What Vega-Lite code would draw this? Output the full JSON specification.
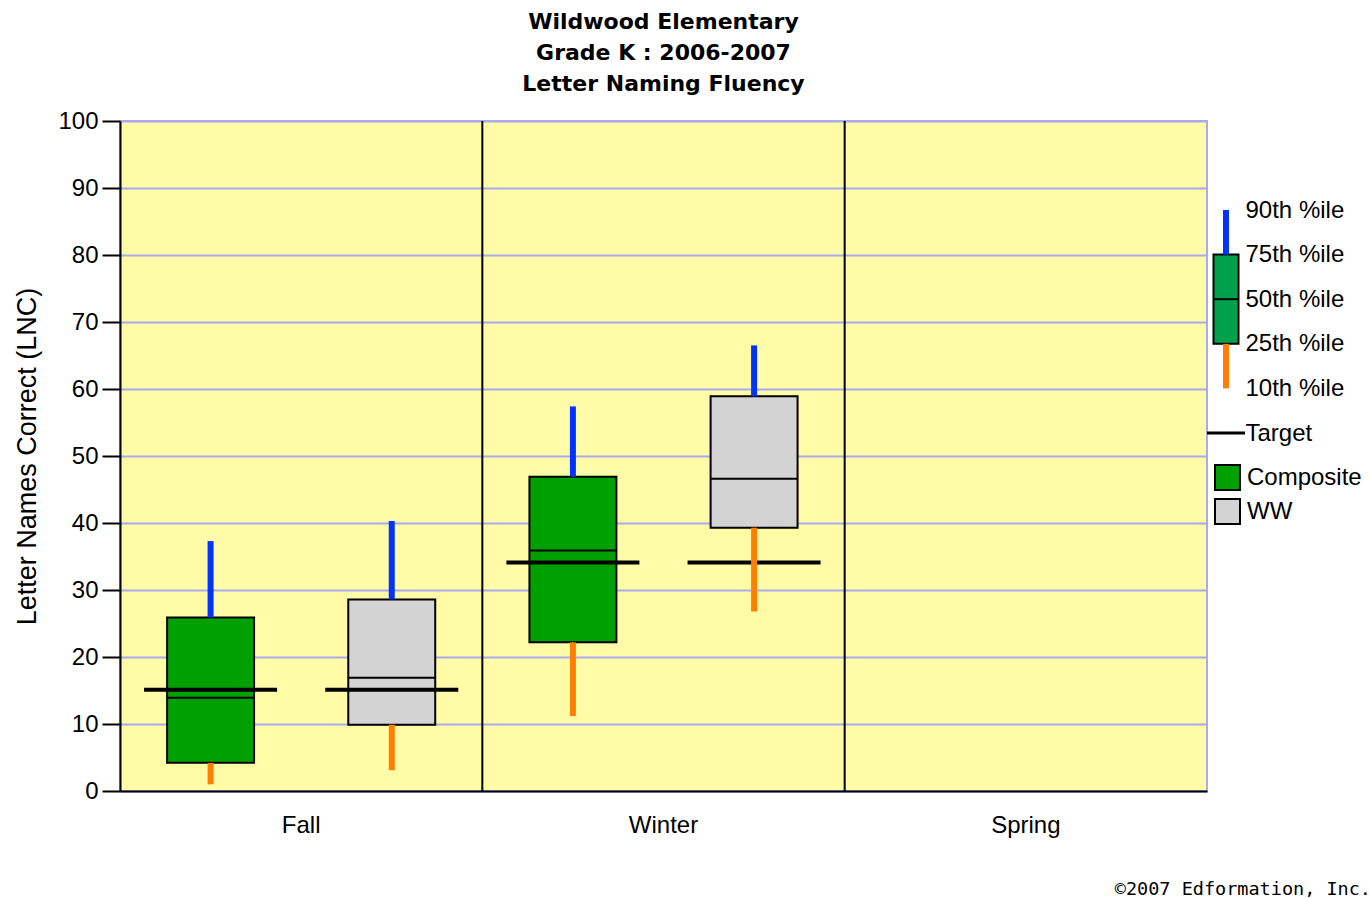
{
  "$schema": "https://vega.github.io/schema/vega-lite/v6.json",
  "background": "white",
  "padding": {"left": 12, "top": 10, "right": 0, "bottom": 0},
  "spacing": 0,
  "bounds": "flush",
  "config": {"font": "Liberation Sans"},
  "title": {
    "text": "©2007 Edformation, Inc.",
    "orient": "bottom",
    "anchor": "end",
    "frame": "bounds",
    "font": "DejaVu Sans Mono",
    "fontSize": 18.5,
    "fontWeight": "normal",
    "color": "black",
    "offset": 42,
    "dx": 9
  },
  "hconcat": [
    {
      "width": 1087,
      "height": 670,
      "view": {"fill": "#fffba6", "stroke": "#aaaaf0", "strokeWidth": 2},
      "title": {
        "text": ["Wildwood Elementary", "Grade K : 2006-2007", "Letter Naming Fluency"],
        "font": "DejaVu Sans",
        "fontWeight": "bold",
        "fontSize": 22,
        "lineHeight": 31,
        "color": "black",
        "offset": 13
      },
      "data": {
        "values": [
          {"season": "Fall", "group": "Composite", "p10": 1.0, "p25": 4.2, "p50": 13.9, "p75": 25.9, "p90": 37.3, "target": 15.1},
          {"season": "Fall", "group": "WW", "p10": 3.1, "p25": 9.9, "p50": 16.9, "p75": 28.6, "p90": 40.3, "target": 15.1},
          {"season": "Winter", "group": "Composite", "p10": 11.2, "p25": 22.2, "p50": 35.9, "p75": 46.9, "p90": 57.4, "target": 34.1},
          {"season": "Winter", "group": "WW", "p10": 26.8, "p25": 39.3, "p50": 46.6, "p75": 58.9, "p90": 66.5, "target": 34.1}
        ]
      },
      "layer": [
        {
          "mark": {"type": "bar", "stroke": "black", "strokeWidth": 2},
          "encoding": {
            "x": {
              "field": "season", "type": "nominal",
              "scale": {"domain": ["Fall", "Winter", "Spring"], "paddingInner": 0, "paddingOuter": 0},
              "axis": {
                "title": null, "labelAngle": 0, "labelFont": "Liberation Sans", "labelFontSize": 24,
                "labelColor": "black", "labelPadding": 22, "ticks": false,
                "domainColor": "black", "domainWidth": 2, "grid": false
              }
            },
            "xOffset": {"field": "group", "type": "nominal", "scale": {"domain": ["Composite", "WW"], "paddingInner": 0.52, "paddingOuter": 0.26}},
            "y": {
              "field": "p25", "type": "quantitative",
              "scale": {"domain": [0, 100]},
              "axis": {
                "tickCount": 10,
                "title": "Letter Names Correct (LNC)", "titleFont": "Liberation Sans", "titleFontSize": 27,
                "titleFontWeight": "normal", "titleColor": "black", "titlePadding": 16,
                "labelFont": "Liberation Sans", "labelFontSize": 24, "labelColor": "black", "labelPadding": 4,
                "tickSize": 18, "tickColor": "black", "tickWidth": 2,
                "domainColor": "black", "domainWidth": 2,
                "gridColor": "#aaaaf0", "gridWidth": 2, "gridOpacity": 1
              }
            },
            "y2": {"field": "p75"},
            "fill": {
              "field": "group", "type": "nominal",
              "scale": {"domain": ["Composite", "WW"], "range": ["#00a000", "#d3d3d3"]},
              "legend": {
                "orient": "none", "legendX": 1094, "legendY": 343, "title": null,
                "symbolType": "square", "symbolSize": 625, "symbolStrokeColor": "black", "symbolStrokeWidth": 2,
                "symbolOpacity": 1,
                "labelFont": "Liberation Sans", "labelFontSize": 24, "labelColor": "black", "labelOffset": 6,
                "rowPadding": 1, "padding": 0
              }
            }
          }
        },
        {
          "mark": {"type": "tick", "size": 87, "thickness": 2, "color": "black", "opacity": 1},
          "encoding": {
            "x": {"field": "season", "type": "nominal"},
            "xOffset": {"field": "group", "type": "nominal"},
            "y": {"field": "p50", "type": "quantitative"}
          }
        },
        {
          "mark": {"type": "tick", "size": 133, "thickness": 4, "color": "black", "opacity": 1},
          "encoding": {
            "x": {"field": "season", "type": "nominal"},
            "xOffset": {"field": "group", "type": "nominal"},
            "y": {"field": "target", "type": "quantitative"}
          }
        },
        {
          "mark": {"type": "rule", "color": "#0033ff", "strokeWidth": 6},
          "encoding": {
            "x": {"field": "season", "type": "nominal"},
            "xOffset": {"field": "group", "type": "nominal"},
            "y": {"field": "p75", "type": "quantitative"},
            "y2": {"field": "p90"}
          }
        },
        {
          "mark": {"type": "rule", "color": "#ff8000", "strokeWidth": 6},
          "encoding": {
            "x": {"field": "season", "type": "nominal"},
            "xOffset": {"field": "group", "type": "nominal"},
            "y": {"field": "p10", "type": "quantitative"},
            "y2": {"field": "p25"}
          }
        },
        {
          "data": {"values": [{"season": "Winter"}, {"season": "Spring"}]},
          "mark": {"type": "rule", "color": "black", "strokeWidth": 2},
          "encoding": {
            "x": {"field": "season", "type": "nominal", "bandPosition": 0}
          }
        }
      ]
    },
    {
      "width": 38,
      "height": 401,
      "view": {"stroke": null},
      "data": {
        "values": [
          {"part": "upper", "from": "90th %ile", "to": "75th %ile"},
          {"part": "box", "from": "75th %ile", "to": "25th %ile"},
          {"part": "median", "from": "50th %ile"},
          {"part": "lower", "from": "25th %ile", "to": "10th %ile"},
          {"part": "target", "from": "Target"}
        ]
      },
      "layer": [
        {
          "transform": [{"filter": "datum.part === 'box'"}],
          "mark": {"type": "rect", "fill": "#00a14b", "stroke": "black", "strokeWidth": 2, "width": 25},
          "encoding": {
            "x": {"datum": "k", "type": "nominal", "scale": {"paddingInner": 0, "paddingOuter": 0}, "axis": null},
            "y": {
              "field": "from", "type": "ordinal",
              "scale": {"type": "point", "domain": ["90th %ile", "75th %ile", "50th %ile", "25th %ile", "10th %ile", "Target"], "padding": 0, "range": [89, 312]},
              "axis": {
                "orient": "right", "title": null, "domain": false, "ticks": false, "grid": false,
                "labelFont": "Liberation Sans", "labelFontSize": 24, "labelColor": "black", "labelPadding": 0
              }
            },
            "y2": {"field": "to"}
          }
        },
        {
          "transform": [{"filter": "datum.part === 'median'"}],
          "mark": {"type": "tick", "orient": "horizontal", "size": 25, "thickness": 2, "color": "black", "opacity": 1},
          "encoding": {
            "x": {"datum": "k", "type": "nominal"},
            "y": {"field": "from", "type": "ordinal"}
          }
        },
        {
          "transform": [{"filter": "datum.part === 'upper'"}],
          "mark": {"type": "rule", "color": "#0033ff", "strokeWidth": 6},
          "encoding": {
            "x": {"datum": "k", "type": "nominal"},
            "y": {"field": "from", "type": "ordinal"},
            "y2": {"field": "to"}
          }
        },
        {
          "transform": [{"filter": "datum.part === 'lower'"}],
          "mark": {"type": "rule", "color": "#ff8000", "strokeWidth": 6},
          "encoding": {
            "x": {"datum": "k", "type": "nominal"},
            "y": {"field": "from", "type": "ordinal"},
            "y2": {"field": "to"}
          }
        },
        {
          "transform": [{"filter": "datum.part === 'target'"}],
          "mark": {"type": "rule", "color": "black", "strokeWidth": 3},
          "encoding": {
            "y": {"field": "from", "type": "ordinal"}
          }
        }
      ]
    }
  ]
}
